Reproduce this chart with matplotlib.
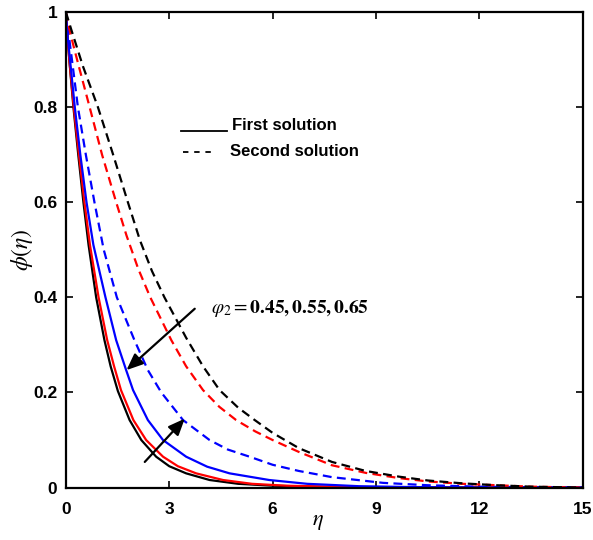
import matplotlib
matplotlib.use("Agg")
import matplotlib.pyplot as plt

plt.rcParams["font.family"] = ["Liberation Sans", "DejaVu Sans"]
plt.rcParams["mathtext.fontset"] = "stix"

# values (eta, phi)
eta_black_1 = [0, 0.05, 0.1, 0.22, 0.36, 0.51, 0.66, 0.88, 1.12, 1.3, 1.51, 1.85, 2.19, 2.62, 3.0, 3.49, 4.17, 5.0, 6.0, 7.5, 9.0, 11, 15]
phi_black_1 = [1, 0.95, 0.9, 0.8, 0.7, 0.6, 0.51, 0.4, 0.31, 0.255, 0.203, 0.142, 0.1, 0.065, 0.045, 0.03, 0.016, 0.008, 0.004, 0.0015, 0.0005, 0.0001, 0]

eta_red_1 = [0, 0.05, 0.1, 0.23, 0.38, 0.54, 0.7, 0.95, 1.2, 1.4, 1.6, 1.96, 2.33, 2.82, 3.25, 3.78, 4.56, 5.4, 6.4, 8, 9.5, 11.5, 15]
phi_red_1 = [1, 0.95, 0.9, 0.8, 0.7, 0.6, 0.51, 0.4, 0.31, 0.255, 0.205, 0.142, 0.1, 0.065, 0.045, 0.03, 0.016, 0.008, 0.004, 0.0015, 0.0005, 0.0001, 0]

eta_blue_1 = [0, 0.05, 0.12, 0.26, 0.42, 0.6, 0.8, 1.15, 1.46, 1.75, 1.95, 2.38, 2.82, 3.49, 4.1, 4.75, 5.9, 7, 8.5, 10, 12, 15]
phi_blue_1 = [1, 0.95, 0.9, 0.8, 0.7, 0.6, 0.51, 0.4, 0.31, 0.247, 0.205, 0.142, 0.1, 0.065, 0.044, 0.03, 0.016, 0.008, 0.003, 0.0012, 0.0003, 0]

eta_blue_2 = [0, 0.18, 0.35, 0.58, 0.83, 1.1, 1.48, 1.99, 2.38, 2.77, 3.4, 4.17, 4.7, 5.33, 6.0, 6.76, 7.72, 9.2, 10.5, 12, 13.5, 15]
phi_blue_2 = [1, 0.898, 0.8, 0.7, 0.6, 0.5, 0.4, 0.31, 0.247, 0.2, 0.142, 0.1, 0.08, 0.065, 0.048, 0.035, 0.022, 0.01, 0.005, 0.002, 0.0008, 0]

eta_red_2 = [0, 0.1, 0.2, 0.35, 0.69, 1.05, 1.46, 1.76, 2.1, 2.45, 3.06, 3.49, 3.98, 4.45, 4.94, 5.5, 6.0, 6.76, 7.72, 8.7, 9.67, 10.5, 11.5, 12.5, 13.5, 15]
phi_red_2 = [1, 0.965, 0.935, 0.893, 0.8, 0.7, 0.6, 0.53, 0.46, 0.4, 0.31, 0.255, 0.205, 0.17, 0.142, 0.118, 0.1, 0.075, 0.047, 0.031, 0.02, 0.013, 0.008, 0.005, 0.002, 0]

eta_black_2 = [0, 0.17, 0.5, 0.93, 1.35, 1.8, 2.15, 2.5, 2.86, 3.49, 3.98, 4.46, 5.0, 5.48, 6.0, 6.76, 7.72, 8.7, 9.67, 10.5, 11.5, 12.5, 13.5, 15]
phi_black_2 = [1, 0.96, 0.885, 0.8, 0.705, 0.6, 0.52, 0.455, 0.4, 0.315, 0.255, 0.205, 0.168, 0.142, 0.115, 0.083, 0.054, 0.035, 0.023, 0.015, 0.009, 0.005, 0.002, 0]

x_ticks = [0, 3, 6, 9, 12, 15]
y_ticks = [0, 0.2, 0.4, 0.6, 0.8, 1]
y_tick_labels = ["0", "0.2", "0.4", "0.6", "0.8", "1"]

fig = plt.figure(figsize=(5.93, 5.40), dpi=100)
ax = fig.add_axes([0.111, 0.097, 0.872, 0.881])

lw = 1.6
dash = (4, 2.4)
ax.plot(eta_black_1, phi_black_1, "-", color="black", lw=lw)
ax.plot(eta_red_1, phi_red_1, "-", color="red", lw=lw)
ax.plot(eta_blue_1, phi_blue_1, "-", color="blue", lw=lw)
ax.plot(eta_blue_2, phi_blue_2, "--", color="blue", lw=lw, dashes=dash)
ax.plot(eta_red_2, phi_red_2, "--", color="red", lw=lw, dashes=dash)
ax.plot(eta_black_2, phi_black_2, "--", color="black", lw=lw, dashes=dash)

ax.set_xlim(0, 15)
ax.set_ylim(0, 1)
ax.set_xticks(x_ticks)
ax.set_yticks(y_ticks)
ax.set_yticklabels(y_tick_labels)
ax.tick_params(direction="in", top=True, right=True, length=5, width=1.2,
               labelsize=12.5)
ax.tick_params(axis="x", pad=10)
ax.tick_params(axis="y", pad=6)
for lab in ax.get_xticklabels() + ax.get_yticklabels():
    lab.set_fontweight("bold")
for sp in ax.spines.values():
    sp.set_linewidth(1.6)

ax.set_xlabel(r"$\eta$", fontsize=16)
ax.xaxis.set_label_coords(0.487, -0.05)
ax.set_ylabel(r"$\phi(\eta)$", fontsize=17)
ax.yaxis.set_label_coords(-0.06, 0.5)

# legend drawn as in the original: short line samples followed by bold text
tr = ax.transAxes
ax.plot([0.222, 0.311], [0.749, 0.749], "-", color="black", lw=1.3,
        transform=tr)
ax.text(0.321, 0.762, "First solution", transform=tr, fontsize=12,
        fontweight="bold", va="center", ha="left")
ax.plot([0.226, 0.29], [0.706, 0.706], "--", color="black", lw=1.3,
        dashes=(3, 3.2), transform=tr)
ax.text(0.317, 0.706, "Second solution", transform=tr, fontsize=12,
        fontweight="bold", va="center", ha="left")

ax.text(4.2, 0.377, r"$\varphi_2 = \mathbf{0.45,0.55,0.65}$", fontsize=14,
        va="center", ha="left")
arrow = dict(arrowstyle="-|>,head_length=1.0,head_width=0.42", color="black",
             lw=1.6, shrinkA=0, shrinkB=0)
ax.annotate("", xy=(1.76, 0.247), xytext=(3.74, 0.376), arrowprops=arrow)
ax.annotate("", xy=(3.45, 0.145), xytext=(2.29, 0.054), arrowprops=arrow)

fig.savefig("out.png", dpi=100)
